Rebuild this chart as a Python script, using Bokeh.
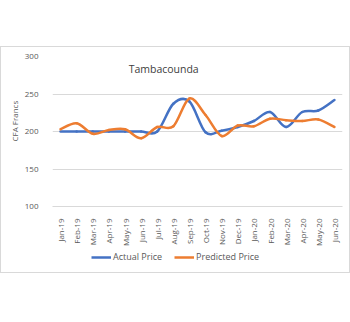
import numpy as np
from math import pi
from bokeh.plotting import figure
from bokeh.layouts import column
from bokeh.models import Range1d, FixedTicker, Legend, LegendItem, Label, Spacer, Title, Styles
from bokeh.embed import file_html
from bokeh.resources import INLINE

months = ["Jan-19", "Feb-19", "Mar-19", "Apr-19", "May-19", "Jun-19", "Jul-19", "Aug-19",
          "Sep-19", "Oct-19", "Nov-19", "Dec-19", "Jan-20", "Feb-20", "Mar-20", "Apr-20",
          "May-20", "Jun-20"]
actual = [200, 200, 200, 200, 200, 200, 200, 237, 240, 199, 201, 206, 214, 226, 206, 226, 228, 242]
predicted = [203, 211, 197, 202, 203, 191, 206, 207, 244, 222, 194, 208, 207, 217, 215, 214, 216, 206]
y_ticks = [100, 150, 200, 250, 300]
series_names = ["Actual Price", "Predicted Price"]
series_colors = ["#4472C4", "#ED7D31"]

FONT = "Open Sans"
GRAY = "#595959"
BORDER = "1px solid #d9d9d9"


def bezier_source(vals):
    x = np.arange(len(vals), dtype=float)
    y = np.asarray(vals, dtype=float)
    xp = np.concatenate([[x[0]], x, [x[-1]]])
    yp = np.concatenate([[y[0]], y, [y[-1]]])
    n = len(vals)
    d = dict(x0=[], y0=[], x1=[], y1=[], cx0=[], cy0=[], cx1=[], cy1=[])
    for i in range(n - 1):
        j = i + 1  # index in padded arrays
        d["x0"].append(xp[j]); d["y0"].append(yp[j])
        d["x1"].append(xp[j + 1]); d["y1"].append(yp[j + 1])
        d["cx0"].append(xp[j] + (xp[j + 1] - xp[j - 1]) / 6)
        d["cy0"].append(yp[j] + (yp[j + 1] - yp[j - 1]) / 6)
        d["cx1"].append(xp[j + 1] - (xp[j + 2] - xp[j]) / 6)
        d["cy1"].append(yp[j + 1] - (yp[j + 2] - yp[j]) / 6)
    return d


p = figure(frame_width=288, frame_height=149, output_backend="svg", toolbar_location=None,
           x_range=Range1d(-0.5, len(months) - 0.5), y_range=Range1d(100, 300),
           min_border_left=51, min_border_right=9, min_border_top=9, min_border_bottom=38)
p.outline_line_color = None
p.background_fill_color = "white"
p.border_fill_color = "white"
p.styles = Styles(border_top=BORDER, border_left=BORDER, border_right=BORDER)

for vals, col in zip([actual, predicted], series_colors):
    p.bezier(source=bezier_source(vals), x0="x0", y0="y0", x1="x1", y1="y1",
             cx0="cx0", cy0="cy0", cx1="cx1", cy1="cy1",
             line_color=col, line_width=2.5, line_cap="round")

p.xgrid.grid_line_color = None
p.ygrid.grid_line_color = "#d9d9d9"
p.ygrid.ticker = FixedTicker(ticks=y_ticks)

p.yaxis.ticker = FixedTicker(ticks=y_ticks)
p.yaxis.axis_line_color = None
p.yaxis.major_tick_line_color = None
p.yaxis.minor_tick_line_color = None
p.yaxis.major_label_standoff = 8
p.yaxis.major_label_text_font = FONT
p.yaxis.major_label_text_font_size = "8px"
p.yaxis.major_label_text_color = GRAY

p.xaxis.ticker = FixedTicker(ticks=list(range(len(months))))
p.xaxis.major_label_overrides = {i: m for i, m in enumerate(months)}
p.xaxis.major_label_orientation = pi / 2
p.xaxis.axis_line_color = "#d9d9d9"
p.xaxis.major_tick_line_color = None
p.xaxis.minor_tick_line_color = None
p.xaxis.major_label_standoff = 6
p.xaxis.major_label_text_font = FONT
p.xaxis.major_label_text_font_size = "8px"
p.xaxis.major_label_text_color = GRAY

p.add_layout(Label(x=6.4, y=283, text="Tambacounda", text_font=FONT, text_font_size="10.5px",
                   text_color="#404040", text_align="center", text_baseline="middle"))
p.add_layout(Title(text="CFA Francs", align="left", offset=65, text_font=FONT,
                   text_font_size="8px", text_font_style="normal", text_color=GRAY,
                   standoff=4), "left")

# legend strip below the chart
p2 = figure(width=350, height=26, output_backend="svg", toolbar_location=None,
            x_range=Range1d(0, 1), y_range=Range1d(0, 1),
            min_border=0, min_border_left=0, min_border_right=0,
            min_border_top=0, min_border_bottom=0)
p2.axis.visible = False
p2.grid.visible = False
p2.outline_line_color = None
p2.border_fill_color = "white"
p2.styles = Styles(border_bottom=BORDER, border_left=BORDER, border_right=BORDER)
items = []
for name, col in zip(series_names, series_colors):
    r = p2.line(x=[0], y=[0], line_color=col, line_width=2.5)
    items.append(LegendItem(label=name, renderers=[r]))
legend = Legend(items=items, orientation="horizontal", location=(39, 10),
                label_text_font=FONT, label_text_font_size="9px", label_text_color=GRAY,
                glyph_width=20, glyph_height=8, spacing=12, padding=2, margin=0,
                border_line_color=None, background_fill_alpha=0, label_standoff=2)
p2.add_layout(legend, "center")

layout = column(Spacer(height=46, width=350), p, p2, spacing=0)

open("out.html", "w").write(file_html(layout, INLINE))
